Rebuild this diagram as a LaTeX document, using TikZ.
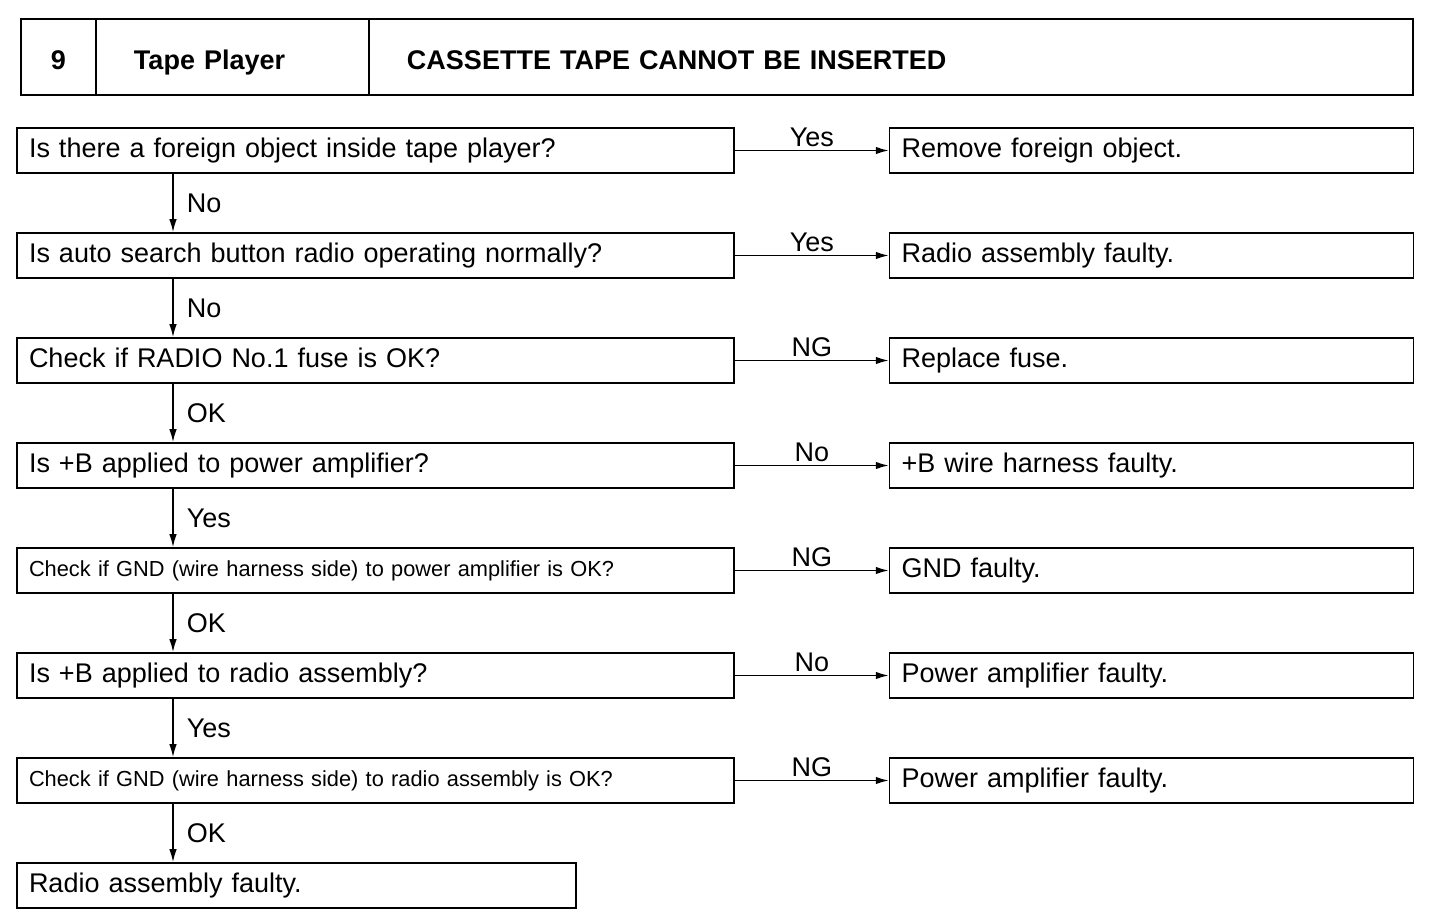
\documentclass[tikz,border=0pt]{standalone}
\usepackage{fontspec}
\setmainfont{Liberation Sans}
\usetikzlibrary{matrix,arrows.meta}

\tikzset{
  box/.style={draw, line width=1.6pt, minimum height=45pt, inner xsep=12pt, inner ysep=0pt, anchor=west, align=left, text height=19pt, text depth=6pt, font=\fontsize{27}{30}\selectfont},
  smalltext/.style={font=\fontsize{21.8}{26}\selectfont, text height=16pt, text depth=5pt},
  arr/.style={line width=1.6pt, -{Latex[length=13pt,width=7.5pt]}},
  lbl/.style={font=\fontsize{27}{30}\selectfont, inner sep=3pt}
}

\begin{document}
\begin{tikzpicture}
        \useasboundingbox (0,0) rectangle (1440pt,-920pt);
        \matrix[matrix of nodes, nodes={draw, line width=1.6pt, anchor=center, minimum height=76pt, inner ysep=0pt, text height=25pt, text depth=0pt, font=\fontsize{27}{30}\selectfont\bfseries}, column sep=-1.6pt, inner sep=0pt, anchor=north west,
            column 1/.style={nodes={text width=75pt, inner xsep=0pt, align=center}},
            column 2/.style={nodes={text width=197pt, inner xsep=38pt, align=left}},
            column 3/.style={nodes={text width=968pt, inner xsep=38pt, align=left}}] (H) at (20pt,-18pt) {
             9 & Tape Player & CASSETTE TAPE CANNOT BE INSERTED \\
        };
        \matrix[matrix of nodes, nodes={box}, column sep=154pt, row sep=58.4pt, inner sep=0pt, anchor=north west,
            column 1/.style={nodes={text width=693pt}},
            column 2/.style={nodes={text width=500pt}}] (F) at (16pt,-127pt) {
            Is there a foreign object inside tape player? & Remove foreign object. \\
            Is auto search button radio operating normally? & Radio assembly faulty. \\
            Check if RADIO No.1 fuse is OK? & Replace fuse. \\
            Is +B applied to power amplifier? & +B wire harness faulty. \\
            |[smalltext]| Check if GND (wire harness side) to power amplifier is OK? & GND faulty. \\
            Is +B applied to radio assembly? & Power amplifier faulty. \\
            |[smalltext]| Check if GND (wire harness side) to radio assembly is OK? & Power amplifier faulty. \\
            |[text width=535pt]| Radio assembly faulty. & \\
        };
        \coordinate (spine) at (173pt,0);
        \foreach \r/\t in {1/Yes,2/Yes,3/NG,4/No,5/NG,6/No,7/NG}
            \draw[arr] (F-\r-1.east) -- node[lbl, above] {\t} (F-\r-2.west);
        \foreach \r/\t in {1/No,2/No,3/OK,4/Yes,5/OK,6/Yes,7/OK} {
            \pgfmathtruncatemacro\n{\r+1}
            \draw[arr] (F-\r-1.south -| spine) -- node[lbl, right, xshift=10pt] {\t} (F-\n-1.north -| spine);
        }
    \end{tikzpicture}
\end{document}
